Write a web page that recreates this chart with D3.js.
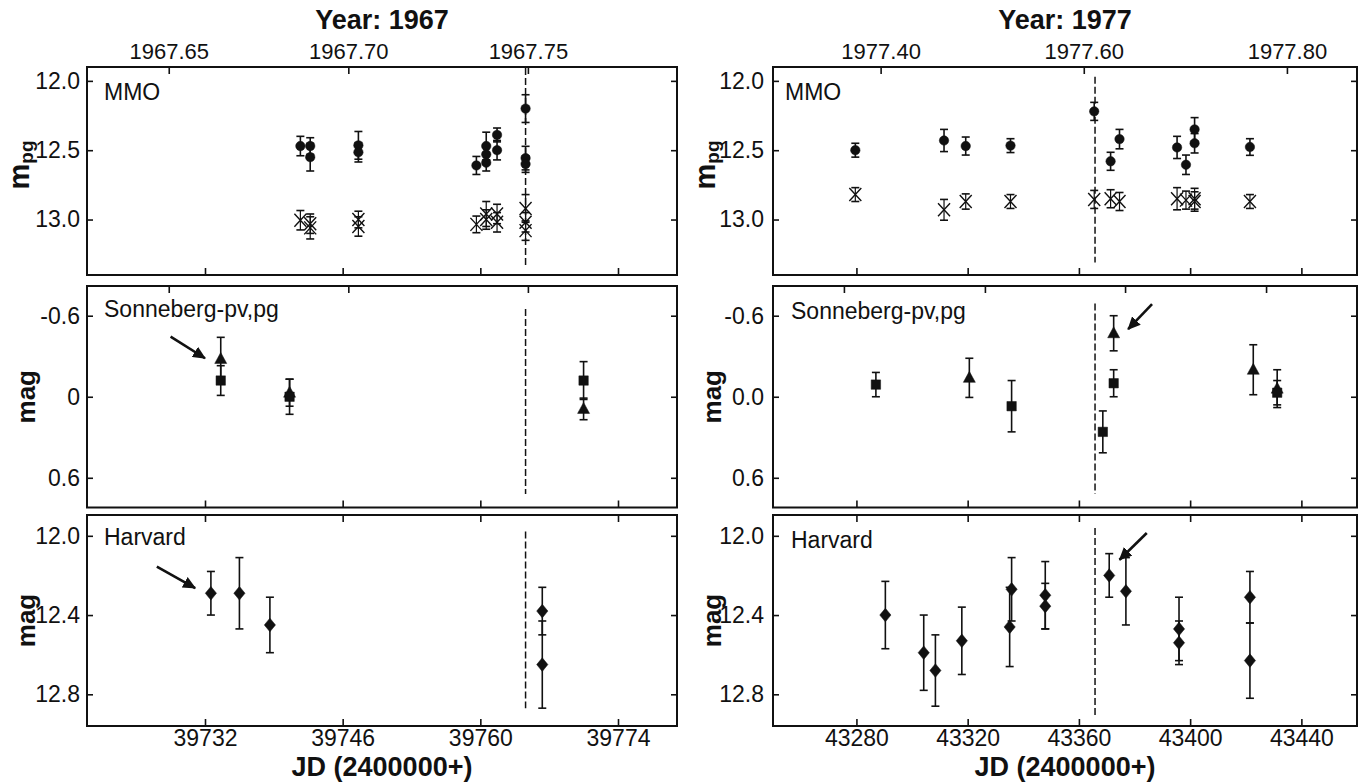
<!DOCTYPE html>
<html>
<head>
<meta charset="utf-8">
<script src="https://cdn.jsdelivr.net/npm/d3@7"></script>
<style>
  body { margin: 0; background: #fff; }
  svg { display: block; }
</style>
</head>
<body>
<svg id="chart" width="1362" height="783"></svg>
<script>
// ---------------- data ----------------
const jdDomain1967 = [39720, 39780];
const jdDomain1977 = [43250, 43460];
const jdTicks1967 = [39732, 39746, 39760, 39774];
const jdTicks1977 = [43280, 43320, 43360, 43400, 43440];
const yearTicks1967 = [1967.65, 1967.70, 1967.75];
const yearTicks1977 = [1977.40, 1977.60, 1977.80];
const yearStartJD1967 = 39490.9;   // JD - 2400000 at the start of 1967
const yearStartJD1977 = 43142.6;   // JD - 2400000 at the start of 1977
const sonnebergTopTicks1977 = [43275.5, 43326.2, 43376.6, 43427.3];

const magTicksMMO = [12.0, 12.5, 13.0];
const magTicksSonneberg = [-0.6, 0, 0.6];
const magTicksHarvard = [12.0, 12.4, 12.8];

const outburstJD1967 = 39764.6;
const outburstJD1977 = 43365.8;

// MMO photographic magnitudes: [JD - 2400000, m_pg, error]
const mmoVariable1967 = [
  [39741.7, 12.47, 0.07], [39742.7, 12.47, 0.06], [39742.7, 12.55, 0.10],
  [39747.6, 12.465, 0.10], [39747.6, 12.515, 0.07],
  [39759.6, 12.61, 0.065], [39760.6, 12.47, 0.10], [39760.6, 12.53, 0.07],
  [39760.6, 12.59, 0.06], [39761.7, 12.39, 0.05], [39761.7, 12.50, 0.07],
  [39764.6, 12.20, 0.10], [39764.6, 12.557, 0.085], [39764.6, 12.60, 0.06]
];
const mmoComparison1967 = [
  [39741.7, 13.005, 0.07], [39742.7, 13.03, 0.07], [39742.7, 13.06, 0.08],
  [39747.6, 13.00, 0.06], [39747.6, 13.05, 0.07],
  [39759.6, 13.035, 0.06], [39760.6, 12.96, 0.09], [39760.6, 13.00, 0.07],
  [39761.7, 12.96, 0.07], [39761.7, 13.02, 0.07],
  [39764.6, 12.92, 0.10], [39764.6, 13.02, 0.07], [39764.6, 13.08, 0.07]
];
const mmoVariable1977 = [
  [43279.6, 12.50, 0.05], [43311.5, 12.43, 0.08], [43319.3, 12.47, 0.065],
  [43335.4, 12.467, 0.05], [43365.5, 12.22, 0.065], [43371.4, 12.58, 0.065],
  [43374.6, 12.42, 0.07], [43395.3, 12.48, 0.08], [43398.5, 12.605, 0.07],
  [43401.6, 12.35, 0.085], [43401.6, 12.45, 0.07], [43421.5, 12.477, 0.06]
];
const mmoComparison1977 = [
  [43279.6, 12.82, 0.05], [43311.5, 12.93, 0.075], [43319.3, 12.87, 0.055],
  [43335.4, 12.87, 0.05], [43365.5, 12.855, 0.065], [43371.4, 12.85, 0.065],
  [43374.6, 12.87, 0.065], [43395.3, 12.85, 0.08], [43398.5, 12.86, 0.065],
  [43401.6, 12.85, 0.075], [43401.6, 12.87, 0.07], [43421.5, 12.87, 0.05]
];

// Sonneberg relative magnitudes: [JD - 2400000, mag, error]
const sonnebergPv1967 = [
  [39733.6, -0.28, 0.16], [39740.6, -0.03, 0.10], [39770.5, 0.09, 0.08]
];
const sonnebergPg1967 = [
  [39733.6, -0.12, 0.11], [39740.6, 0.00, 0.13], [39770.5, -0.12, 0.14]
];
const sonnebergPv1977 = [
  [43320.6, -0.14, 0.145], [43372.5, -0.47, 0.13], [43422.7, -0.20, 0.185],
  [43431.3, -0.06, 0.14]
];
const sonnebergPg1977 = [
  [43287.0, -0.09, 0.09], [43335.8, 0.07, 0.19], [43368.6, 0.26, 0.155],
  [43372.5, -0.10, 0.10], [43431.3, -0.03, 0.09]
];

// Harvard plate magnitudes: [JD - 2400000, mag, error]
const harvard1967 = [
  [39732.6, 12.29, 0.11], [39735.5, 12.29, 0.18], [39738.6, 12.45, 0.14],
  [39766.3, 12.38, 0.12], [39766.3, 12.65, 0.22]
];
const harvard1977 = [
  [43290.4, 12.40, 0.17], [43304.2, 12.59, 0.19], [43308.4, 12.68, 0.18],
  [43317.9, 12.53, 0.17], [43335.1, 12.46, 0.20], [43335.8, 12.27, 0.16],
  [43347.9, 12.30, 0.17], [43347.9, 12.355, 0.115], [43370.9, 12.20, 0.11],
  [43376.9, 12.28, 0.17], [43396.0, 12.47, 0.16], [43396.0, 12.54, 0.11],
  [43421.5, 12.31, 0.13], [43421.5, 12.63, 0.19]
];

// Arrows: [JD start, mag start, JD end, mag end]
const sonnebergArrow1967 = [39728.5, -0.445, 39732.0, -0.285];
const harvardArrow1967 = [39727.1, 12.155, 39731.0, 12.264];
const sonnebergArrow1977 = [43386.3, -0.686, 43377.7, -0.50];
const harvardArrow1977 = [43384.4, 11.986, 43374.6, 12.121];

// ---------------- drawing ----------------
const FONT = '"Liberation Sans", Arial, Helvetica, sans-serif';
const INK = "#111";
const svg = d3.select("#chart");

svg.append("defs").append("marker")
  .attr("id", "arrowhead")
  .attr("markerUnits", "userSpaceOnUse")
  .attr("markerWidth", 14).attr("markerHeight", 12)
  .attr("refX", 12).attr("refY", 6)
  .attr("orient", "auto")
  .append("path").attr("d", "M0,0 L13,6 L0,12 Z").attr("fill", INK);

const rows = {
  mmo: { y0: 67, y1: 275 },
  son: { y0: 286, y1: 507.5 },
  har: { y0: 515, y1: 726 }
};
const cols = {
  y1967: { x0: 87, x1: 677, jd: jdDomain1967, jdTicks: jdTicks1967, yearTicks: yearTicks1967,
           yearStart: yearStartJD1967, year: 1967, yPad: 7, labelX: 35, tagDx: 17 },
  y1977: { x0: 773, x1: 1357, jd: jdDomain1977, jdTicks: jdTicks1977, yearTicks: yearTicks1977,
           yearStart: yearStartJD1977, year: 1977, yPad: 9, labelX: 721, tagDx: 18 }
};

const markerPath = {
  circle: d3.symbol(d3.symbolCircle, 70)(),
  square: "M-4.7,-4.7H4.7V4.7H-4.7Z",
  triangle: "M0,-6.5L6,4.5H-6Z",
  diamond: "M0,-6.8L5.6,0L0,6.8L-5.6,0Z",
  cross: "M-6,-6.5L6,6.5M-6,6.5L6,-6.5"
};

function cleanAxis(sel) {
  sel.select(".domain").remove();
  sel.selectAll(".tick line").attr("stroke", INK).attr("stroke-width", 1.6);
}
function styleText(sel, size, weight) {
  sel.attr("font-family", FONT).attr("font-size", size);
  sel.selectAll("text").attr("fill", INK).attr("font-weight", weight || "normal");
}
// plain hyphen for negative values, as printed on the axes
const hyphenate = f => d => f(d).replace("\u2212", "-");

function drawPanel(col, row, cfg) {
  const { x0, x1 } = col;
  const { y0, y1 } = row;
  const g = svg.append("g");
  const xs = d3.scaleLinear().domain(col.jd).range([x0, x1]);
  const ys = d3.scaleLinear().domain(cfg.magDomain).range([y0, y1]);
  const yearScale = d3.scaleLinear()
    .domain(col.jd.map(j => col.year + (j - col.yearStart) / 365.25))
    .range([x0, x1]);

  // frame
  g.append("rect")
    .attr("x", x0).attr("y", y0).attr("width", x1 - x0).attr("height", y1 - y0)
    .attr("fill", "none").attr("stroke", INK).attr("stroke-width", 2);

  // inward ticks along the top edge
  const topAxis = cfg.topTicksJD
    ? d3.axisBottom(xs).tickValues(cfg.topTicksJD)
    : (cfg.topYear ? d3.axisBottom(yearScale).tickValues(col.yearTicks)
                   : d3.axisBottom(xs).tickValues(col.jdTicks));
  g.append("g").attr("transform", `translate(0,${y0})`)
    .call(topAxis.tickSize(7).tickFormat(""))
    .call(cleanAxis);

  // inward ticks along the bottom edge
  g.append("g").attr("transform", `translate(0,${y1})`)
    .call(d3.axisTop(xs).tickValues(col.jdTicks).tickSize(7).tickFormat(""))
    .call(cleanAxis);

  // inward ticks on both vertical edges
  g.append("g").attr("transform", `translate(${x0},0)`)
    .call(d3.axisRight(ys).tickValues(cfg.yTicks).tickSize(6).tickFormat(""))
    .call(cleanAxis);
  g.append("g").attr("transform", `translate(${x1},0)`)
    .call(d3.axisLeft(ys).tickValues(cfg.yTicks).tickSize(6).tickFormat(""))
    .call(cleanAxis);

  // magnitude tick labels
  g.append("g").attr("transform", `translate(${x0},0)`)
    .call(d3.axisLeft(ys).tickValues(cfg.yTicks).tickSize(0).tickPadding(col.yPad)
      .tickFormat(hyphenate(cfg.yFormat)))
    .call(cleanAxis)
    .call(styleText, 23);

  // year labels above the top row
  if (cfg.topYear && cfg.yearLabels) {
    g.append("g").attr("transform", `translate(0,${y0})`)
      .call(d3.axisTop(yearScale).tickValues(col.yearTicks).tickSize(0).tickPadding(8)
        .tickFormat(d3.format(".2f")))
      .call(cleanAxis)
      .call(styleText, 22);
    g.append("text")
      .attr("x", (x0 + x1) / 2).attr("y", 29)
      .attr("text-anchor", "middle")
      .attr("font-family", FONT).attr("font-size", 27).attr("font-weight", "bold")
      .attr("fill", INK)
      .text(`Year: ${col.year}`);
  }

  // JD labels below the bottom row
  if (cfg.jdLabels) {
    g.append("g").attr("transform", `translate(0,${y1})`)
      .call(d3.axisBottom(xs).tickValues(col.jdTicks).tickSize(0).tickPadding(4)
        .tickFormat(d3.format("d")))
      .call(cleanAxis)
      .call(styleText, 23);
    g.append("text")
      .attr("x", (x0 + x1) / 2).attr("y", 776)
      .attr("text-anchor", "middle")
      .attr("font-family", FONT).attr("font-size", 27).attr("font-weight", "bold")
      .attr("fill", INK)
      .text("JD (2400000+)");
  }

  // vertical axis title
  const yMid = (y0 + y1) / 2 + (cfg.yTitleShift || 0);
  const title = g.append("text")
    .attr("text-anchor", "middle")
    .attr("font-family", FONT).attr("font-weight", "bold").attr("fill", INK);
  if (cfg.yTitleSub) {
    title.attr("transform", `translate(${col.labelX - 6},${yMid}) rotate(-90)`)
      .attr("font-size", 29);
    title.append("tspan").text(cfg.yTitle);
    title.append("tspan").attr("font-size", 19).attr("dy", "0.22em").text(cfg.yTitleSub);
  } else {
    title.attr("transform", `translate(${col.labelX},${yMid}) rotate(-90)`)
      .attr("font-size", 26).text(cfg.yTitle);
  }

  // panel tag
  g.append("text")
    .attr("x", x0 + (cfg.tagDx != null ? cfg.tagDx : col.tagDx)).attr("y", cfg.tagY)
    .attr("font-family", FONT).attr("font-size", 23).attr("fill", INK)
    .text(cfg.tag);

  // outburst epoch
  g.append("line")
    .attr("x1", xs(cfg.outburst)).attr("x2", xs(cfg.outburst))
    .attr("y1", ys(cfg.dashRange[0])).attr("y2", ys(cfg.dashRange[1]))
    .attr("stroke", INK).attr("stroke-width", 1.5)
    .attr("stroke-dasharray", "7,3");

  // series with error bars
  cfg.series.forEach(s => {
    const sg = g.append("g");
    sg.selectAll("g.pt").data(s.data).join("g").attr("class", "pt")
      .each(function (d) {
        const p = d3.select(this);
        const cx = xs(d[0]);
        const yTop = ys(d[1] - d[2]), yBot = ys(d[1] + d[2]);
        p.append("line").attr("x1", cx).attr("x2", cx).attr("y1", yTop).attr("y2", yBot)
          .attr("stroke", INK).attr("stroke-width", s.barWidth || 1.6);
        [yTop, yBot].forEach(yy => {
          p.append("line").attr("x1", cx - s.cap).attr("x2", cx + s.cap)
            .attr("y1", yy).attr("y2", yy)
            .attr("stroke", INK).attr("stroke-width", 1.6);
        });
      });
    sg.selectAll("path.mk").data(s.data).join("path").attr("class", "mk")
      .attr("d", markerPath[s.marker])
      .attr("transform", d => `translate(${xs(d[0])},${ys(d[1])})`)
      .attr("fill", s.marker === "cross" ? "none" : INK)
      .attr("stroke", INK)
      .attr("stroke-width", s.marker === "cross" ? 1.4 : 0.5);
  });

  // arrow annotation
  if (cfg.arrow) {
    const a = cfg.arrow;
    g.append("line")
      .attr("x1", xs(a[0])).attr("y1", ys(a[1]))
      .attr("x2", xs(a[2])).attr("y2", ys(a[3]))
      .attr("stroke", INK).attr("stroke-width", 2.6)
      .attr("marker-end", "url(#arrowhead)");
  }
}

const fmt1 = d3.format(".1f");
const fmtSonneberg1967 = d => d === 0 ? "0" : d3.format(".1f")(d);

// ---- 1967 column ----
drawPanel(cols.y1967, rows.mmo, {
  magDomain: [11.9, 13.4], yTicks: magTicksMMO, yFormat: fmt1,
  topYear: true, yearLabels: true,
  yTitle: "m", yTitleSub: "pg", yTitleShift: -6,
  tag: "MMO", tagY: 100,
  outburst: outburstJD1967, dashRange: [11.907, 13.34],
  series: [
    { data: mmoVariable1967, marker: "circle", cap: 4 },
    { data: mmoComparison1967, marker: "cross", cap: 4, barWidth: 1.2 }
  ]
});
drawPanel(cols.y1967, rows.son, {
  magDomain: [-0.82, 0.82], yTicks: magTicksSonneberg, yFormat: fmtSonneberg1967,
  topYear: true,
  yTitle: "mag",
  tag: "Sonneberg-pv,pg", tagY: 317,
  outburst: outburstJD1967, dashRange: [-0.65, 0.72],
  arrow: sonnebergArrow1967,
  series: [
    { data: sonnebergPv1967, marker: "triangle", cap: 4 },
    { data: sonnebergPg1967, marker: "square", cap: 4 }
  ]
});
drawPanel(cols.y1967, rows.har, {
  magDomain: [11.895, 12.96], yTicks: magTicksHarvard, yFormat: fmt1,
  jdLabels: true,
  yTitle: "mag",
  tag: "Harvard", tagY: 545,
  outburst: outburstJD1967, dashRange: [11.978, 12.87],
  arrow: harvardArrow1967,
  series: [
    { data: harvard1967, marker: "diamond", cap: 4 }
  ]
});

// ---- 1977 column ----
drawPanel(cols.y1977, rows.mmo, {
  magDomain: [11.9, 13.4], yTicks: magTicksMMO, yFormat: fmt1,
  topYear: true, yearLabels: true,
  yTitle: "m", yTitleSub: "pg", yTitleShift: -6,
  tag: "MMO", tagY: 100, tagDx: 12,
  outburst: outburstJD1977, dashRange: [11.97, 13.31],
  series: [
    { data: mmoVariable1977, marker: "circle", cap: 4 },
    { data: mmoComparison1977, marker: "cross", cap: 4, barWidth: 1.2 }
  ]
});
drawPanel(cols.y1977, rows.son, {
  magDomain: [-0.82, 0.82], yTicks: magTicksSonneberg, yFormat: fmt1,
  topTicksJD: sonnebergTopTicks1977,
  yTitle: "mag",
  tag: "Sonneberg-pv,pg", tagY: 319,
  outburst: outburstJD1977, dashRange: [-0.69, 0.72],
  arrow: sonnebergArrow1977,
  series: [
    { data: sonnebergPv1977, marker: "triangle", cap: 4 },
    { data: sonnebergPg1977, marker: "square", cap: 4 }
  ]
});
drawPanel(cols.y1977, rows.har, {
  magDomain: [11.895, 12.96], yTicks: magTicksHarvard, yFormat: fmt1,
  jdLabels: true,
  yTitle: "mag",
  tag: "Harvard", tagY: 548,
  outburst: outburstJD1977, dashRange: [11.96, 12.91],
  arrow: harvardArrow1977,
  series: [
    { data: harvard1977, marker: "diamond", cap: 4 }
  ]
});
</script>
</body>
</html>
